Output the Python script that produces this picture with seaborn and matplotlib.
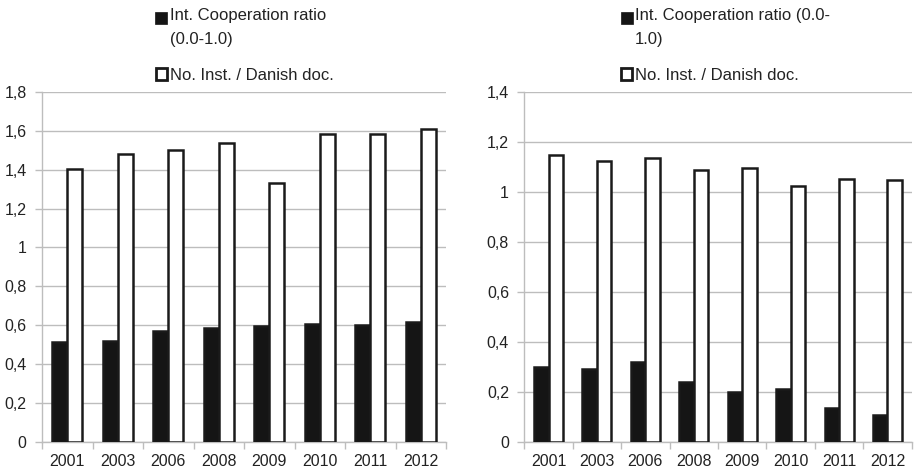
import matplotlib
matplotlib.use("Agg")
import matplotlib.pyplot as plt
from matplotlib.patches import Rectangle
from matplotlib.ticker import FixedLocator, FixedFormatter
import seaborn as sns
import pandas as pd

years = ["2001", "2003", "2006", "2008", "2009", "2010", "2011", "2012"]
series = ["Int. Cooperation ratio (0.0-1.0)", "No. Inst. / Danish doc."]

# Left panel
coop_left = [0.515, 0.52, 0.57, 0.585, 0.597, 0.605, 0.60, 0.615]
inst_left = [1.403, 1.48, 1.50, 1.537, 1.331, 1.582, 1.586, 1.612]
yticks_left = [0, 0.2, 0.4, 0.6, 0.8, 1.0, 1.2, 1.4, 1.6, 1.8]
ylabels_left = ["0", "0,2", "0,4", "0,6", "0,8", "1", "1,2", "1,4", "1,6", "1,8"]
legend_left = ["Int. Cooperation ratio\n(0.0-1.0)", "No. Inst. / Danish doc."]

# Right panel
coop_right = [0.30, 0.29, 0.32, 0.24, 0.20, 0.21, 0.135, 0.107]
inst_right = [1.147, 1.123, 1.137, 1.088, 1.095, 1.024, 1.052, 1.048]
yticks_right = [0, 0.2, 0.4, 0.6, 0.8, 1.0, 1.2, 1.4]
ylabels_right = ["0", "0,2", "0,4", "0,6", "0,8", "1", "1,2", "1,4"]
legend_right = ["Int. Cooperation ratio (0.0-\n1.0)", "No. Inst. / Danish doc."]

sns.set_theme(style="white")
plt.rcParams["font.family"] = ["Liberation Sans", "DejaVu Sans"]

BAR_DARK = "#151515"
EDGE = "#1a1a1a"
GRID = "#bdbdbd"
TEXT = "#222222"

fig = plt.figure(figsize=(9.15, 4.73), dpi=100)
W, H = 915, 473


def make_frame(coop, inst):
    return pd.DataFrame({
        "year": years * 2,
        "value": list(coop) + list(inst),
        "series": [series[0]] * len(years) + [series[1]] * len(years),
    })


def draw_panel(rect, coop, inst, yticks, ylabels):
    ax = fig.add_axes(rect)
    df = make_frame(coop, inst)
    sns.barplot(data=df, x="year", y="value", hue="series", hue_order=series,
                palette=[BAR_DARK, "white"], width=0.6, edgecolor=EDGE,
                linewidth=1.8, saturation=1, legend=False, ax=ax, zorder=3)
    ax.set_xlim(-0.5, len(years) - 0.5)
    ax.set_ylim(yticks[0], yticks[-1])
    ax.set_xlabel("")
    ax.set_ylabel("")
    ax.yaxis.set_major_locator(FixedLocator(yticks))
    ax.yaxis.set_major_formatter(FixedFormatter(ylabels))
    ax.set_xticks(range(len(years)))
    ax.set_xticklabels(years)
    ax.set_xticks([i - 0.5 for i in range(len(years) + 1)], minor=True)
    ax.tick_params(axis="x", which="major", length=0, pad=9,
                   labelsize=11.5, labelcolor=TEXT)
    ax.tick_params(axis="x", which="minor", length=5, width=1,
                   color=GRID, direction="out", bottom=True)
    ax.tick_params(axis="y", which="major", length=5, width=1, color=GRID,
                   direction="out", left=True, pad=6,
                   labelsize=11.5, labelcolor=TEXT)
    ax.grid(axis="y", color=GRID, linewidth=1, zorder=0)
    ax.set_axisbelow(True)
    for side in ("top", "right"):
        ax.spines[side].set_visible(False)
    for side in ("left", "bottom"):
        ax.spines[side].set_color(GRID)
        ax.spines[side].set_linewidth(1)
    return ax


def draw_legend(x_box, x_text, labels):
    # filled square + wrapped label, then hollow square + label
    fig.patches.append(Rectangle((x_box / W, 1 - 24 / H), 12 / W, 12 / H,
                                 transform=fig.transFigure, facecolor=BAR_DARK,
                                 edgecolor=BAR_DARK, linewidth=0.5))
    fig.text(x_text / W, 1 - 8 / H, labels[0], ha="left", va="top",
             fontsize=12, color=TEXT, linespacing=1.75)
    fig.patches.append(Rectangle(((x_box + 0.5) / W, 1 - 80 / H), 11 / W, 12 / H,
                                 transform=fig.transFigure, facecolor="white",
                                 edgecolor=EDGE, linewidth=2))
    fig.text(x_text / W, 1 - 75 / H, labels[1], ha="left", va="center",
             fontsize=12, color=TEXT)


draw_panel([42 / W, 1 - 441.7 / H, (446 - 42) / W, (441.7 - 92) / H],
           coop_left, inst_left, yticks_left, ylabels_left)
draw_panel([524.3 / W, 1 - 441.7 / H, (911.7 - 524.3) / W, (441.7 - 92) / H],
           coop_right, inst_right, yticks_right, ylabels_right)

draw_legend(155, 170, legend_left)
draw_legend(620.5, 635, legend_right)

fig.savefig("out.png", dpi=100)
